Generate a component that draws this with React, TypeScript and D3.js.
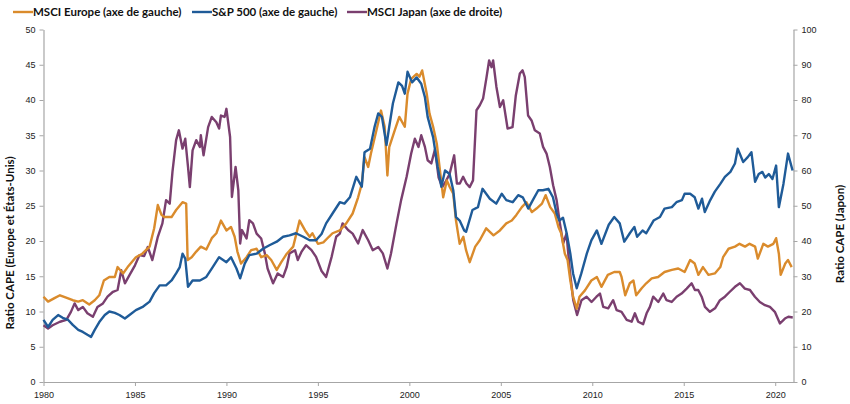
import React, { useEffect, useRef } from "react";
import * as d3 from "d3";

// CAPE ratios, [year, value]
const europe: [number, number][] = [
  [1980.0, 12.1], [1980.25, 11.4], [1980.6, 11.9], [1980.9, 12.3], [1981.2, 12.0], [1981.6, 11.6], [1981.9, 11.4],
  [1982.15, 11.6], [1982.5, 11.0], [1982.8, 11.6], [1983.05, 12.3], [1983.3, 14.4], [1983.6, 14.9], [1983.9, 14.9],
  [1984.05, 16.3], [1984.35, 15.4], [1984.6, 16.3], [1985.05, 17.7], [1985.4, 18.2], [1985.8, 19.2], [1986.05, 21.8],
  [1986.25, 25.1], [1986.45, 23.7], [1986.6, 23.4], [1987.0, 23.4], [1987.25, 24.4], [1987.6, 25.5], [1987.8, 25.3],
  [1987.88, 17.3], [1988.1, 17.7], [1988.35, 18.5], [1988.6, 19.2], [1988.9, 18.8], [1989.2, 20.4], [1989.45, 21.1],
  [1989.7, 22.9], [1990.0, 21.5], [1990.25, 22.0], [1990.45, 20.6], [1990.6, 18.5], [1990.8, 16.8], [1991.1, 17.7],
  [1991.35, 18.7], [1991.65, 18.9], [1991.9, 17.7], [1992.2, 18.0], [1992.45, 17.3], [1992.75, 15.9], [1993.0, 17.0],
  [1993.3, 18.2], [1993.65, 19.2], [1994.0, 22.9], [1994.3, 21.5], [1994.55, 20.6], [1994.7, 21.1], [1995.0, 19.6],
  [1995.3, 19.8], [1995.6, 20.6], [1995.8, 21.1], [1996.2, 21.5], [1996.55, 22.5], [1996.9, 23.9], [1997.2, 26.2],
  [1997.4, 28.1], [1997.55, 31.9], [1997.75, 30.5], [1997.9, 32.4], [1998.2, 35.7], [1998.45, 38.5], [1998.65, 36.2],
  [1998.8, 29.3], [1998.9, 33.3], [1999.2, 35.7], [1999.45, 37.6], [1999.75, 36.2], [1999.9, 40.9], [2000.1, 43.0],
  [2000.4, 43.7], [2000.55, 43.3], [2000.7, 44.2], [2000.95, 40.9], [2001.1, 38.1], [2001.3, 36.2], [2001.5, 33.8],
  [2001.65, 30.5], [2001.85, 26.2], [2002.05, 28.6], [2002.2, 27.7], [2002.4, 26.7], [2002.55, 22.9], [2002.75, 19.6],
  [2002.95, 20.6], [2003.1, 18.7], [2003.3, 17.0], [2003.6, 19.2], [2003.85, 20.1], [2004.2, 21.8], [2004.6, 20.8],
  [2004.95, 21.5], [2005.3, 22.5], [2005.6, 22.9], [2005.85, 23.7], [2006.15, 24.8], [2006.4, 25.5], [2006.7, 24.1],
  [2006.95, 24.6], [2007.25, 25.3], [2007.45, 26.5], [2007.7, 24.8], [2007.95, 23.9], [2008.15, 22.0], [2008.3, 21.1],
  [2008.5, 18.2], [2008.65, 17.3], [2008.8, 14.4], [2008.95, 12.1], [2009.15, 10.4], [2009.3, 12.1], [2009.6, 13.0],
  [2009.95, 14.4], [2010.25, 14.9], [2010.5, 13.5], [2010.85, 15.2], [2011.2, 15.6], [2011.5, 15.6], [2011.6, 14.9],
  [2011.8, 12.3], [2012.05, 14.0], [2012.25, 14.4], [2012.4, 12.3], [2012.7, 13.3], [2012.95, 14.0], [2013.25, 14.7],
  [2013.6, 14.9], [2013.95, 15.6], [2014.35, 15.9], [2014.7, 16.1], [2015.05, 15.6], [2015.35, 17.3], [2015.6, 16.8],
  [2015.8, 15.2], [2016.05, 16.3], [2016.35, 15.2], [2016.7, 15.4], [2017.0, 16.3], [2017.15, 17.7], [2017.45, 18.9],
  [2017.8, 19.2], [2018.05, 19.6], [2018.35, 19.2], [2018.6, 19.6], [2018.9, 19.2], [2019.05, 17.5], [2019.35, 19.6],
  [2019.6, 19.2], [2019.9, 19.6], [2020.05, 20.4], [2020.2, 18.2], [2020.3, 15.2], [2020.55, 16.8], [2020.7, 17.3],
  [2020.9, 16.3],
];

const sp500: [number, number][] = [
  [1980.0, 8.8], [1980.25, 7.8], [1980.5, 8.8], [1980.8, 9.5], [1981.05, 9.1], [1981.35, 8.8], [1981.6, 8.1],
  [1981.9, 7.4], [1982.15, 7.1], [1982.4, 6.7], [1982.6, 6.4], [1982.8, 7.4], [1983.05, 8.5], [1983.35, 9.5],
  [1983.6, 10.0], [1983.9, 9.8], [1984.15, 9.5], [1984.45, 9.0], [1984.7, 9.5], [1985.05, 10.2], [1985.45, 10.7],
  [1985.8, 11.4], [1986.05, 12.6], [1986.35, 13.7], [1986.7, 13.7], [1987.0, 14.4], [1987.25, 15.4], [1987.45, 16.3],
  [1987.6, 18.2], [1987.75, 17.5], [1987.9, 13.5], [1988.15, 14.4], [1988.55, 14.4], [1988.9, 14.9], [1989.25, 16.3],
  [1989.6, 17.7], [1990.0, 17.0], [1990.25, 17.7], [1990.55, 16.1], [1990.75, 14.7], [1991.0, 16.8], [1991.25, 18.0],
  [1991.65, 18.2], [1992.0, 18.9], [1992.35, 19.4], [1992.75, 19.9], [1993.1, 20.6], [1993.45, 20.8], [1993.8, 21.1],
  [1994.2, 20.6], [1994.55, 20.1], [1994.9, 20.1], [1995.2, 21.0], [1995.45, 22.5], [1995.8, 23.9], [1996.2, 25.5],
  [1996.45, 25.3], [1996.75, 26.2], [1997.1, 29.1], [1997.4, 27.7], [1997.55, 32.6], [1997.85, 33.1], [1998.1, 36.2],
  [1998.3, 38.1], [1998.5, 37.6], [1998.75, 33.6], [1998.9, 36.2], [1999.1, 39.5], [1999.4, 42.5], [1999.6, 42.0],
  [1999.75, 40.9], [1999.9, 44.0], [2000.15, 42.5], [2000.4, 43.2], [2000.65, 42.3], [2000.85, 40.4], [2001.0, 37.6],
  [2001.3, 34.7], [2001.55, 30.5], [2001.75, 27.7], [2001.95, 30.0], [2002.2, 29.5], [2002.4, 27.2], [2002.55, 23.4],
  [2002.75, 22.9], [2003.0, 21.5], [2003.1, 21.3], [2003.45, 24.4], [2003.75, 24.8], [2004.0, 27.4], [2004.4, 26.0],
  [2004.75, 25.3], [2005.05, 26.7], [2005.3, 25.8], [2005.65, 25.5], [2005.95, 26.5], [2006.2, 26.2], [2006.5, 24.6],
  [2006.75, 25.8], [2007.05, 27.2], [2007.3, 27.2], [2007.6, 27.4], [2007.85, 26.2], [2008.05, 23.9], [2008.2, 22.9],
  [2008.4, 23.3], [2008.6, 21.1], [2008.8, 18.2], [2008.95, 15.4], [2009.15, 13.3], [2009.4, 15.4], [2009.7, 18.2],
  [2009.95, 20.1], [2010.25, 21.5], [2010.5, 19.6], [2010.9, 22.3], [2011.2, 23.4], [2011.5, 22.5], [2011.75, 19.9],
  [2012.05, 21.1], [2012.3, 22.0], [2012.45, 20.6], [2012.75, 21.5], [2012.95, 21.1], [2013.35, 22.9], [2013.7, 23.4],
  [2013.95, 24.6], [2014.35, 24.8], [2014.6, 25.5], [2014.9, 25.8], [2015.05, 26.7], [2015.35, 26.7], [2015.6, 26.2],
  [2015.8, 24.6], [2016.0, 26.0], [2016.15, 24.1], [2016.45, 25.8], [2016.7, 27.0], [2017.0, 28.1], [2017.25, 29.1],
  [2017.55, 29.8], [2017.8, 31.0], [2017.95, 33.1], [2018.25, 31.2], [2018.5, 31.9], [2018.7, 32.6], [2018.9, 28.4],
  [2019.1, 29.5], [2019.3, 29.8], [2019.45, 29.0], [2019.65, 29.5], [2019.85, 28.8], [2020.05, 30.7], [2020.2, 24.8],
  [2020.45, 28.1], [2020.7, 32.4], [2020.95, 30.0],
];

const japan: [number, number][] = [
  [1980.0, 16.1], [1980.25, 15.2], [1980.5, 16.1], [1980.9, 17.1], [1981.25, 17.6], [1981.5, 19.9], [1981.7, 22.3],
  [1981.9, 20.4], [1982.15, 21.3], [1982.4, 19.5], [1982.7, 18.5], [1982.95, 21.3], [1983.25, 22.3], [1983.5, 24.2],
  [1983.8, 25.6], [1984.05, 26.1], [1984.25, 31.7], [1984.45, 28.0], [1984.7, 30.3], [1985.0, 33.1], [1985.25, 36.0],
  [1985.5, 35.7], [1985.7, 38.3], [1985.95, 34.6], [1986.25, 41.2], [1986.5, 45.0], [1986.7, 51.6], [1986.9, 50.6],
  [1987.05, 59.6], [1987.25, 68.6], [1987.4, 71.4], [1987.6, 66.2], [1987.75, 69.0], [1987.9, 61.0], [1988.0, 55.3],
  [1988.15, 65.7], [1988.35, 68.6], [1988.55, 66.7], [1988.6, 70.0], [1988.75, 64.3], [1989.0, 72.3], [1989.2, 75.2],
  [1989.45, 73.7], [1989.6, 71.9], [1989.7, 75.6], [1989.9, 75.2], [1990.0, 77.5], [1990.2, 69.5], [1990.3, 52.5],
  [1990.5, 61.0], [1990.65, 54.4], [1990.75, 39.3], [1990.85, 43.1], [1991.1, 40.7], [1991.25, 45.9], [1991.45, 45.0],
  [1991.65, 42.1], [1991.9, 40.7], [1992.1, 36.5], [1992.25, 32.2], [1992.55, 28.0], [1992.8, 30.8], [1993.1, 29.8],
  [1993.3, 32.7], [1993.45, 36.5], [1993.75, 37.4], [1993.9, 34.6], [1994.1, 36.9], [1994.35, 38.8], [1994.65, 37.4],
  [1994.9, 35.5], [1995.2, 31.5], [1995.45, 29.8], [1995.75, 35.5], [1996.0, 41.2], [1996.2, 42.1], [1996.35, 45.0],
  [1996.65, 43.1], [1996.9, 42.1], [1997.2, 39.3], [1997.45, 43.1], [1997.75, 40.2], [1998.0, 37.4], [1998.3, 38.3],
  [1998.55, 36.5], [1998.8, 32.2], [1999.0, 36.5], [1999.3, 45.0], [1999.55, 51.6], [1999.85, 58.2], [2000.1, 64.8],
  [2000.3, 69.0], [2000.5, 66.7], [2000.65, 70.0], [2000.85, 66.7], [2001.0, 62.9], [2001.2, 62.0], [2001.4, 66.0],
  [2001.6, 58.0], [2001.8, 55.3], [2002.0, 57.0], [2002.2, 59.0], [2002.45, 64.3], [2002.6, 56.3], [2002.76, 56.3],
  [2002.94, 58.2], [2003.12, 56.3], [2003.3, 55.3], [2003.48, 57.2], [2003.67, 77.1], [2003.85, 78.5], [2004.03, 80.4],
  [2004.22, 86.5], [2004.36, 91.2], [2004.49, 89.3], [2004.58, 91.2], [2004.76, 83.7], [2004.95, 78.0], [2005.13, 79.9],
  [2005.37, 71.9], [2005.64, 72.3], [2005.82, 81.3], [2006.04, 87.5], [2006.19, 88.4], [2006.31, 86.5], [2006.49, 75.6],
  [2006.68, 74.2], [2006.86, 71.4], [2007.13, 70.5], [2007.31, 66.7], [2007.5, 64.8], [2007.68, 61.0], [2007.86, 55.8],
  [2008.05, 51.6], [2008.23, 45.0], [2008.41, 39.3], [2008.59, 42.1], [2008.77, 31.7], [2008.96, 23.2], [2009.17, 19.0],
  [2009.41, 23.2], [2009.69, 24.2], [2009.96, 22.7], [2010.23, 24.2], [2010.42, 25.1], [2010.6, 21.3], [2010.87, 20.9],
  [2011.14, 23.2], [2011.33, 20.4], [2011.6, 19.9], [2011.88, 17.6], [2012.15, 17.1], [2012.33, 19.5], [2012.51, 17.1],
  [2012.78, 16.4], [2012.97, 19.5], [2013.15, 21.3], [2013.33, 24.2], [2013.61, 22.7], [2013.88, 25.1], [2014.06, 23.2],
  [2014.34, 22.7], [2014.61, 24.2], [2014.88, 25.1], [2015.16, 26.5], [2015.43, 28.0], [2015.61, 26.1], [2015.79, 26.1],
  [2015.98, 24.2], [2016.16, 21.3], [2016.43, 19.9], [2016.71, 20.9], [2016.98, 23.2], [2017.25, 24.2], [2017.52, 25.6],
  [2017.8, 27.0], [2018.07, 28.0], [2018.34, 26.5], [2018.62, 26.1], [2018.89, 24.2], [2019.16, 22.7], [2019.44, 21.8],
  [2019.71, 21.3], [2019.98, 19.9], [2020.26, 16.6], [2020.53, 18.0], [2020.72, 18.5], [2020.96, 18.3],
];

const yearTicks = [1980, 1985, 1990, 1995, 2000, 2005, 2010, 2015, 2020];
const leftTicks = [0, 5, 10, 15, 20, 25, 30, 35, 40, 45, 50];
const rightTicks = [0, 10, 20, 30, 40, 50, 60, 70, 80, 90, 100];

const seriesNames = ["MSCI Europe (axe de gauche)", "S&P 500 (axe de gauche)", "MSCI Japan (axe de droite)"];
const colors = ["#DA8B2C", "#1F5B98", "#7A3F6F"];

const W = 850;
const H = 404;
const margin = { top: 29.5, right: 57, bottom: 22, left: 43.5 };
const axisColor = "#A6A6A6";
const tickFont = "'Liberation Sans', Arial, sans-serif";
const labelFont = "Lato, 'Open Sans', sans-serif";

export default function App() {
  const svgRef = useRef<SVGSVGElement>(null);

  useEffect(() => {
    if (!svgRef.current) return;
    const svg = d3.select(svgRef.current);
    svg.selectAll("*").remove();

    const x = d3.scaleLinear().domain([1980, 2021]).range([margin.left, W - margin.right + 0.5]);
    const yL = d3.scaleLinear().domain([0, 50]).range([H - margin.bottom, margin.top]);
    const yR = d3.scaleLinear().domain([0, 100]).range([H - margin.bottom, margin.top]);

    const styleAxis = (g: any) => {
      g.selectAll(".domain").attr("stroke", axisColor).attr("stroke-width", 1.2);
      g.selectAll(".tick line").attr("stroke", axisColor).attr("stroke-width", 1);
      g.selectAll("text").attr("fill", "#222").style("font-family", tickFont).style("font-size", "9px");
    };

    svg.append("g")
      .attr("transform", `translate(${margin.left},0)`)
      .call(d3.axisLeft(yL).tickValues(leftTicks).tickSize(4).tickPadding(4).tickSizeOuter(0))
      .call(styleAxis);

    svg.append("g")
      .attr("transform", `translate(${W - margin.right + 0.5},0)`)
      .call(d3.axisRight(yR).tickValues(rightTicks).tickSize(4).tickPadding(4).tickSizeOuter(0))
      .call(styleAxis);

    svg.append("g")
      .attr("transform", `translate(0,${H - margin.bottom})`)
      .call(d3.axisBottom(x).tickValues(yearTicks).tickFormat(d3.format("d")).tickSize(4).tickPadding(6).tickSizeOuter(0))
      .call(styleAxis);

    const lineL = d3.line<[number, number]>().x(d => x(d[0])).y(d => yL(d[1]));
    const lineR = d3.line<[number, number]>().x(d => x(d[0])).y(d => yR(d[1]));

    const paths: [string, string][] = [
      [lineR(japan) as string, colors[2]],
      [lineL(europe) as string, colors[0]],
      [lineL(sp500) as string, colors[1]],
    ];
    paths.forEach(([d, c]) => {
      svg.append("path").attr("d", d).attr("fill", "none").attr("stroke", c)
        .attr("stroke-width", 2.4).attr("stroke-linejoin", "round");
    });

    // legend
    const legendX = [13, 192, 347];
    seriesNames.forEach((name, i) => {
      const g = svg.append("g").attr("transform", `translate(${legendX[i]},12)`);
      g.append("line").attr("x1", 0).attr("x2", 20).attr("y1", 0).attr("y2", 0)
        .attr("stroke", colors[i]).attr("stroke-width", 2.4);
      g.append("text").attr("x", 20).attr("y", 4).text(name)
        .style("font-family", labelFont).style("font-size", "11.5px").style("font-weight", 700).attr("fill", "#111");
    });

    svg.append("text")
      .attr("transform", "translate(14,243) rotate(-90)")
      .attr("text-anchor", "middle")
      .text("Ratio CAPE (Europe et États-Unis)")
      .style("font-family", labelFont).style("font-size", "11.5px").style("font-weight", 700).attr("fill", "#111");

    svg.append("text")
      .attr("transform", "translate(844,234) rotate(-90)")
      .attr("text-anchor", "middle")
      .text("Ratio CAPE (Japon)")
      .style("font-family", labelFont).style("font-size", "11.5px").style("font-weight", 700).attr("fill", "#111");
  }, []);

  return (
    <svg ref={svgRef} width={W} height={H}
      style={{ position: "absolute", left: 0, top: 0, background: "#fff" }} />
  );
}
